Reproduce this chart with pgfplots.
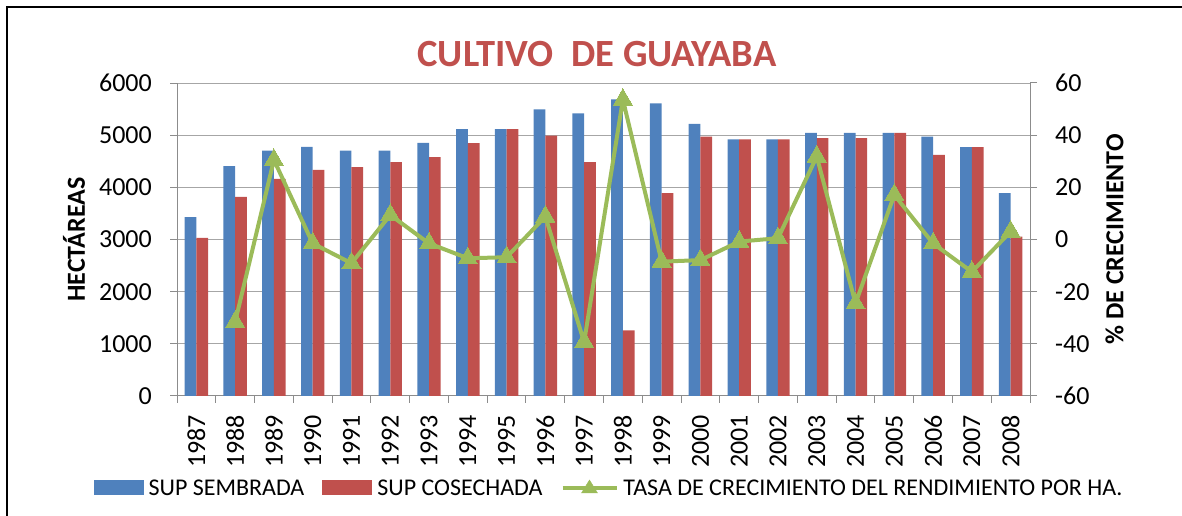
\documentclass[border=0pt]{standalone}
\usepackage{pgfplots}
\pgfplotsset{compat=1.18}
\usepackage{fontspec}
\setmainfont{Carlito}
\definecolor{cblue}{HTML}{4F81BD}
\definecolor{cred}{HTML}{C0504D}
\definecolor{cgreen}{HTML}{9BBB59}
\definecolor{cgrid}{HTML}{A6A6A6}
\definecolor{caxis}{HTML}{8C8C8C}
\newcommand{\tickfont}{\fontsize{26}{30}\selectfont}
\newcommand{\legfont}{\fontsize{24}{28}\selectfont}
\newcommand{\labfont}{\fontsize{26}{30}\selectfont\bfseries}
\newcommand{\titfont}{\fontsize{38.5}{44}\selectfont\bfseries}
\pgfplotsset{
  common/.style={
    at={(177pt,120pt)}, anchor=south west,
    width=853pt, height=313pt, scale only axis,
    xmin=-0.5, xmax=21.5,
    tick align=outside, major tick length=7pt,
    tick style={draw=caxis, line width=1pt},
    axis line style={draw=caxis, line width=1pt},
    /pgf/number format/assume math mode=true,
    /pgf/number format/1000 sep={},
    scaled y ticks=false,
  },
}
\begin{document}
\begin{tikzpicture}
\path[use as bounding box] (0,0) rectangle (1182pt,516pt);
\begin{axis}[common,
  ymin=0, ymax=6000, ytick={0,1000,...,6000},
  ybar=0pt, bar width=11.7pt,
  axis x line*=bottom, axis y line*=left,
  ymajorgrids, grid style={draw=cgrid, line width=1pt},
  xtick={-0.5,0.5,...,21.5},
  xticklabels={1987,1988,1989,1990,1991,1992,1993,1994,1995,1996,1997,1998,1999,2000,2001,2002,2003,2004,2005,2006,2007,2008,{}},
  xticklabel style={font=\tickfont, xshift=19.39pt, yshift=-12pt, rotate=90, anchor=east, inner sep=0pt},
  yticklabel style={font=\tickfont, anchor=east, inner sep=0pt, xshift=-18pt},
  ylabel={HECTÁREAS},
  every axis y label/.style={at={(axis description cs:-0.1208,0.5)}, rotate=90, anchor=center, font=\labfont},
  title={CULTIVO\ \ DE GUAYABA},
  title style={at={(axis description cs:0.4924,1.074)}, anchor=center, font=\titfont, text=cred},
  legend style={at={(axis description cs:0.5053,-0.2939)}, anchor=center, draw=none, fill=none,
    legend columns=3, font=\legfont, nodes={inner sep=0pt},
    /tikz/every odd column/.append style={column sep=5pt},
    /tikz/every even column/.append style={column sep=18pt}},
  bar legend/.style={legend image code/.code={\fill[##1, draw=none] (0pt,-7.5pt) rectangle (50pt,7.5pt);}},
]
\addplot[fill=cblue, draw=none, bar legend] coordinates {
(0,3430) (1,4406) (2,4705) (3,4776) (4,4705) (5,4705) (6,4853) (7,5116) (8,5116) (9,5493) (10,5416)
(11,5685) (12,5608) (13,5218) (14,4917) (15,4917) (16,5045) (17,5045) (18,5045) (19,4974) (20,4770) (21,3887)};
\addlegendentry{SUP SEMBRADA}
\addplot[fill=cred, draw=none, bar legend] coordinates {
(0,3029) (1,3816) (2,4162) (3,4335) (4,4386) (5,4482) (6,4578) (7,4847) (8,5116) (9,4993) (10,4482)
(11,1256) (12,3887) (13,4974) (14,4917) (15,4917) (16,4943) (17,4943) (18,5045) (19,4622) (20,4770) (21,3054)};
\addlegendentry{SUP COSECHADA}
\addlegendimage{legend image code/.code={\draw[cgreen, line width=4pt] (0pt,0pt) -- (54pt,0pt); \fill[cgreen] (27pt,8pt) -- (19pt,-5pt) -- (35pt,-5pt) -- cycle;}}
\addlegendentry{TASA DE CRECIMIENTO DEL RENDIMIENTO POR HA.}
\end{axis}
\begin{axis}[common,
  ymin=-60, ymax=60, ytick={-60,-40,...,60},
  axis x line=none, axis y line*=right,
  yticklabel style={font=\tickfont, anchor=west, inner sep=0pt, xshift=18pt},
  ylabel={\% DE CRECIMIENTO},
  every axis y label/.style={at={(axis description cs:1.0991,0.5)}, rotate=90, anchor=center, font=\labfont},
]
\addplot[cgreen, line width=4pt, line join=round, mark=triangle*, mark size=11pt,
  mark options={solid, fill=cgreen, draw=cgreen, line width=0pt}] coordinates {
(1,-31.6) (2,30.5) (3,-1.5) (4,-9.1) (5,9.4) (6,-1.5) (7,-7.2) (8,-6.8) (9,8.8) (10,-39.3)
(11,53.6) (12,-8.5) (13,-7.9) (14,-0.8) (15,0.5) (16,31.8) (17,-24.5) (18,17.1) (19,-1.5) (20,-12.4) (21,3.0)};
\end{axis}
\draw[line width=2.5pt, black] (7pt,0pt) -- (7pt,509pt) -- (1182pt,509pt);
\end{tikzpicture}
\end{document}
